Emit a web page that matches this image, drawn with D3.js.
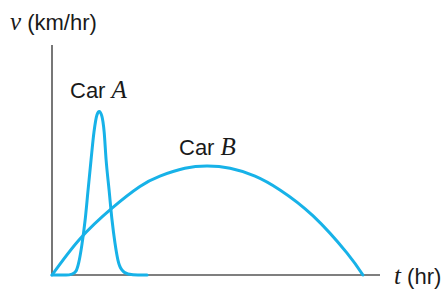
<!DOCTYPE html>
<html>
<head>
<meta charset="utf-8">
<script src="https://cdn.jsdelivr.net/npm/d3@7"></script>
<style>
  body { margin: 0; background: #fff; }
  .lbl { font-family: "Liberation Sans Narrow", "Liberation Sans", Arial, sans-serif; font-size: 22px; fill: #1a1a1a; }
  .sym { font-family: "Liberation Serif", "Times New Roman", serif; font-style: italic; font-size: 25px; }
</style>
</head>
<body>
<svg id="chart" width="443" height="290"></svg>
<script>
// time (hr) and speed values, arbitrary units 0..10
const carATime  = [0, 0.43, 0.61, 0.73, 0.82, 0.91, 1.01, 1.10, 1.19, 1.28, 1.37, 1.44, 1.52, 1.59, 1.65, 1.74, 1.83, 1.92, 2.01, 2.13, 2.32, 2.62, 2.90];
const carASpeed = [0, 0,    0.04, 0.17, 0.57, 1.30, 2.39, 3.70, 5.00, 6.22, 6.96, 7.11, 6.91, 6.22, 5.00, 3.70, 2.39, 1.39, 0.65, 0.22, 0.04, 0,    0];

const carBTime  = [0, 0.85, 1.83, 2.68, 3.29, 4.05, 4.74, 5.43, 6.19, 6.95, 7.96, 8.99, 9.48];
const carBSpeed = [0, 1.57, 2.91, 3.85, 4.30, 4.64, 4.74, 4.64, 4.30, 3.70, 2.57, 0.96, 0];

const svg = d3.select("#chart");

const margin = {left: 52, right: 63, top: 45, bottom: 15};
const width = +svg.attr("width"), height = +svg.attr("height");

const x = d3.scaleLinear().domain([0, 10]).range([margin.left, width - margin.right]);
const y = d3.scaleLinear().domain([0, 10]).range([height - margin.bottom, margin.top]);

// axes: plain lines, no ticks
const axisG = svg.append("g").attr("stroke", "#555").attr("stroke-width", 1.6);
axisG.append("line")
    .attr("x1", x(0)).attr("x2", x(0))
    .attr("y1", y(0)).attr("y2", y(10));
axisG.append("line")
    .attr("x1", x(0)).attr("x2", x(10))
    .attr("y1", y(0)).attr("y2", y(0));

const lineA = d3.line()
    .x(d => x(d[0]))
    .y(d => y(d[1]))
    .curve(d3.curveMonotoneX);

const lineB = d3.line()
    .x(d => x(d[0]))
    .y(d => y(d[1]))
    .curve(d3.curveNatural);

svg.append("path")
    .datum(d3.zip(carBTime, carBSpeed))
    .attr("d", lineB)
    .attr("class", "car");

svg.append("path")
    .datum(d3.zip(carATime, carASpeed))
    .attr("d", lineA)
    .attr("class", "car");

svg.selectAll("path.car")
    .attr("fill", "none")
    .attr("stroke", "#17b2e8")
    .attr("stroke-width", 3)
    .attr("stroke-linejoin", "round")
    .attr("stroke-linecap", "round");

// labels
function label(px, py, sym, txt, symFirst) {
    const t = svg.append("text").attr("class", "lbl").attr("x", px).attr("y", py);
    if (symFirst) {
        t.append("tspan").attr("class", "sym").text(sym);
        t.append("tspan").text(" " + txt);
    } else {
        t.append("tspan").text(txt + " ");
        t.append("tspan").attr("class", "sym").text(sym);
    }
}

label(10, 30, "v", "(km/hr)", true);
label(70, 98, "A", "Car", false);
label(179, 155, "B", "Car", false);
label(394, 284, "t", "(hr)", true);
</script>
</body>
</html>
